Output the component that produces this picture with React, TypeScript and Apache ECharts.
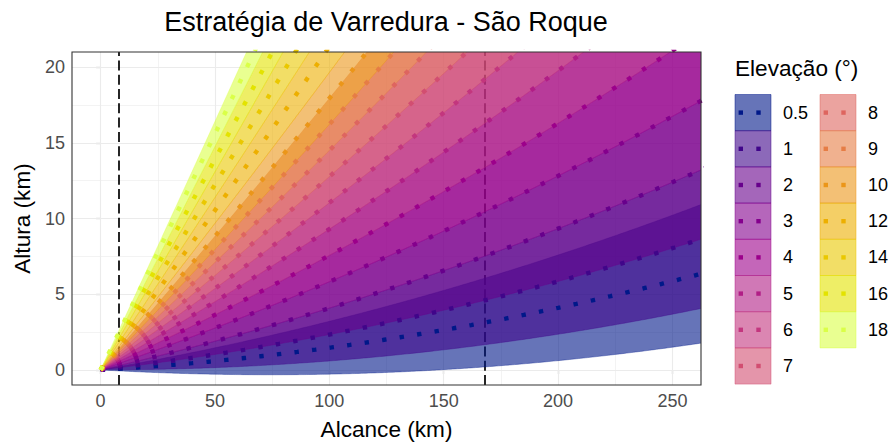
import React, { useEffect, useRef } from "react";
import * as echarts from "echarts";

// ---- data ----
const ELEVATIONS = [0.5, 1, 2, 3, 4, 5, 6, 7, 8, 9, 10, 12, 14, 16, 18];
const ELEV_LABELS = ["0.5", "1", "2", "3", "4", "5", "6", "7", "8", "9", "10", "12", "14", "16", "18"];
const BEAM_HALF_WIDTH = 1; // degrees
const EARTH_RADIUS_KM = 6371;
const REFRACTION_K = 4 / 3;
const MARK_RANGES = [8, 168];
const X_TICKS = [0, 50, 100, 150, 200, 250];
const X_GRID_MAJOR = [0, 50, 100, 150, 200, 250];
const X_GRID_MINOR = [25, 75, 125, 175, 225];
const Y_TICKS = [0, 5, 10, 15, 20];
const Y_GRID_MAJOR = [0, 5, 10, 15, 20];
const Y_GRID_MINOR = [2.5, 7.5, 12.5, 17.5];
const RANGE_MAX_KM = 270;

const TITLE = "Estratégia de Varredura - São Roque";
const X_NAME = "Alcance (km)";
const Y_NAME = "Altura (km)";
const LEGEND_TITLE = "Elevação (°)";

// ---- helpers ----
const RANGES: number[] = [];
for (let r = 0; r <= RANGE_MAX_KM; r += 1) RANGES.push(r);

function beamHeight(r: number, elevDeg: number): number {
  const kr = REFRACTION_K * EARTH_RADIUS_KM;
  const s = Math.sin((elevDeg * Math.PI) / 180);
  return Math.sqrt(r * r + kr * kr + 2 * r * kr * s) - kr;
}

// sequential HCL "Plasma" palette (as R's hcl.colors)
function hclToRgb(H: number, C: number, L: number): number[] {
  const h = (H * Math.PI) / 180;
  const u = C * Math.cos(h);
  const v = C * Math.sin(h);
  const Y = L > 8 ? Math.pow((L + 16) / 116, 3) : L / 903.3;
  const un = 0.1978398, vn = 0.4683363;
  const up = u / (13 * L) + un;
  const vp = v / (13 * L) + vn;
  const X = (9 * Y * up) / (4 * vp);
  const Z = (Y * (12 - 3 * up - 20 * vp)) / (4 * vp);
  const lin = [
    3.2404542 * X - 1.5371385 * Y - 0.4985314 * Z,
    -0.969266 * X + 1.8760108 * Y + 0.041556 * Z,
    0.0556434 * X - 0.2040259 * Y + 1.0572252 * Z,
  ];
  return lin.map((c) => {
    const cc = Math.min(1, Math.max(0, c));
    const g = cc <= 0.0031308 ? 12.92 * cc : 1.055 * Math.pow(cc, 1 / 2.4) - 0.055;
    return Math.round(Math.min(1, Math.max(0, g)) * 255);
  });
}
function hclPlasma(n: number): number[][] {
  const out: number[][] = [];
  for (let k = 0; k < n; k++) {
    const i = 1 - k / (n - 1);
    const H = 100 - 200 * i;
    const C = 100 - 40 * Math.pow(i, 2);
    const L = 95 - 80 * Math.pow(i, 0.9);
    out.push(hclToRgb(H, C, L));
  }
  return out;
}
const COLORS = hclPlasma(ELEVATIONS.length);
const rgba = (c: number[], a: number) => `rgba(${c[0]},${c[1]},${c[2]},${a})`;
const FILL_ALPHA = 0.6;
const FONT = "Liberation Sans, Arial, Helvetica, sans-serif";
const DOT = 4.4;
const DOT_GAP = 13.3;

export default function App() {
  const ref = useRef<HTMLDivElement>(null);
  useEffect(() => {
    if (!ref.current) return;
    const chart = echarts.init(ref.current, null, { renderer: "svg" });

    const gridLineSeries = (xs: number[], ys: number[], width: number) => ({
      type: "line",
      data: [],
      z: 1,
      silent: true,
      markLine: {
        z: 1,
        silent: true,
        symbol: ["none", "none"],
        label: { show: false },
        lineStyle: { color: "#EBEBEB", width, type: "solid" },
        emphasis: { disabled: true },
        data: [...xs.map((v) => ({ xAxis: v })), ...ys.map((v) => ({ yAxis: v }))],
      },
    });

    const bandSeries = {
      type: "custom",
      z: 3,
      clip: true,
      silent: true,
      data: ELEVATIONS.map((e, i) => [i, e]),
      renderItem: (params: any, api: any) => {
        const idx = params.dataIndex;
        const el = ELEVATIONS[idx];
        const lo = el - BEAM_HALF_WIDTH;
        const hi = el + BEAM_HALF_WIDTH;
        const pts: number[][] = [];
        for (const r of RANGES) pts.push(api.coord([r, beamHeight(r, lo)]));
        for (let k = RANGES.length - 1; k >= 0; k--) pts.push(api.coord([RANGES[k], beamHeight(RANGES[k], hi)]));
        return {
          type: "polygon",
          shape: { points: pts },
          style: { fill: rgba(COLORS[idx], FILL_ALPHA), stroke: rgba(COLORS[idx], FILL_ALPHA), lineWidth: 0.6 },
        };
      },
    };

    const centerLines = ELEVATIONS.map((el, i) => ({
      type: "line",
      z: 4,
      silent: true,
      showSymbol: false,
      symbol: "none",
      data: RANGES.map((r) => [r, beamHeight(r, el)]),
      lineStyle: { color: rgba(COLORS[i], 1), width: DOT, type: [DOT, DOT_GAP], cap: "butt" },
    }));

    const vlineSeries = {
      type: "line",
      data: [],
      z: 2,
      silent: true,
      markLine: {
        z: 2,
        silent: true,
        symbol: ["none", "none"],
        label: { show: false },
        lineStyle: { color: "#000000", width: 1.7, type: [10, 4.3] },
        data: MARK_RANGES.map((v) => ({ xAxis: v })),
      },
    };

    // legend drawn as graphic
    const legend: any[] = [
      {
        type: "text",
        x: 735,
        y: 68,
        style: { text: LEGEND_TITLE, fontSize: 22.6, fontFamily: FONT, fill: "#000", textVerticalAlign: "middle" },
      },
    ];
    const KEY = 36.2;
    ELEVATIONS.forEach((_, i) => {
      const col = i < 8 ? 0 : 1;
      const row = i < 8 ? i : i - 8;
      const kx = 735 + col * 85;
      const ky = 94.5 + row * KEY;
      legend.push({
        type: "rect",
        shape: { x: kx, y: ky, width: 36, height: KEY },
        style: { fill: rgba(COLORS[i], FILL_ALPHA), stroke: rgba(COLORS[i], FILL_ALPHA), lineWidth: 0.8 },
      });
      [3.6, 21.3].forEach((dx) =>
        legend.push({
          type: "rect",
          shape: { x: kx + dx, y: ky + KEY / 2 - DOT / 2, width: DOT, height: DOT },
          style: { fill: rgba(COLORS[i], 1) },
        })
      );
      legend.push({
        type: "text",
        x: kx + 48,
        y: ky + KEY / 2,
        style: { text: ELEV_LABELS[i], fontSize: 18, fontFamily: FONT, fill: "#000", textVerticalAlign: "middle" },
      });
    });

    const option: any = {
      animation: false,
      textStyle: { fontFamily: FONT },
      grid: {
        left: 72,
        right: 189,
        top: 52,
        bottom: 58,
        show: true,
        borderColor: "#333333",
        borderWidth: 1.1,
        backgroundColor: "transparent",
        z: 5,
      },
      xAxis: {
        type: "value",
        min: -12.5,
        max: 262.5,
        name: X_NAME,
        nameLocation: "middle",
        nameGap: 33,
        nameTextStyle: { fontSize: 22.6, color: "#000", fontFamily: FONT },
        axisLine: { show: false },
        splitLine: { show: false },
        axisTick: { show: true, customValues: X_TICKS, length: 4.5, lineStyle: { color: "#333", width: 1.1 } },
        axisLabel: { customValues: X_TICKS, color: "#4D4D4D", fontSize: 18, margin: 7, fontFamily: FONT },
      },
      yAxis: {
        type: "value",
        min: -1,
        max: 21,
        name: Y_NAME,
        nameLocation: "middle",
        nameGap: 34,
        nameTextStyle: { fontSize: 22.6, color: "#000", fontFamily: FONT },
        axisLine: { show: false },
        splitLine: { show: false },
        axisTick: { show: true, customValues: Y_TICKS, length: 4.5, lineStyle: { color: "#333", width: 1.1 } },
        axisLabel: { customValues: Y_TICKS, color: "#4D4D4D", fontSize: 18, margin: 7, fontFamily: FONT },
      },
      graphic: [
        {
          type: "text",
          x: 386,
          y: 22,
          style: {
            text: TITLE,
            fontSize: 27,
            fontFamily: FONT,
            fill: "#000",
            textAlign: "center",
            textVerticalAlign: "middle",
          },
        },
        ...legend,
      ],
      series: [
        gridLineSeries(X_GRID_MINOR, Y_GRID_MINOR, 0.6),
        gridLineSeries(X_GRID_MAJOR, Y_GRID_MAJOR, 1.1),
        vlineSeries,
        bandSeries,
        ...centerLines,
      ],
    };
    chart.setOption(option);
    return () => chart.dispose();
  }, []);
  return <div ref={ref} style={{ position: "absolute", left: 0, top: 0, width: 890, height: 446 }} />;
}
